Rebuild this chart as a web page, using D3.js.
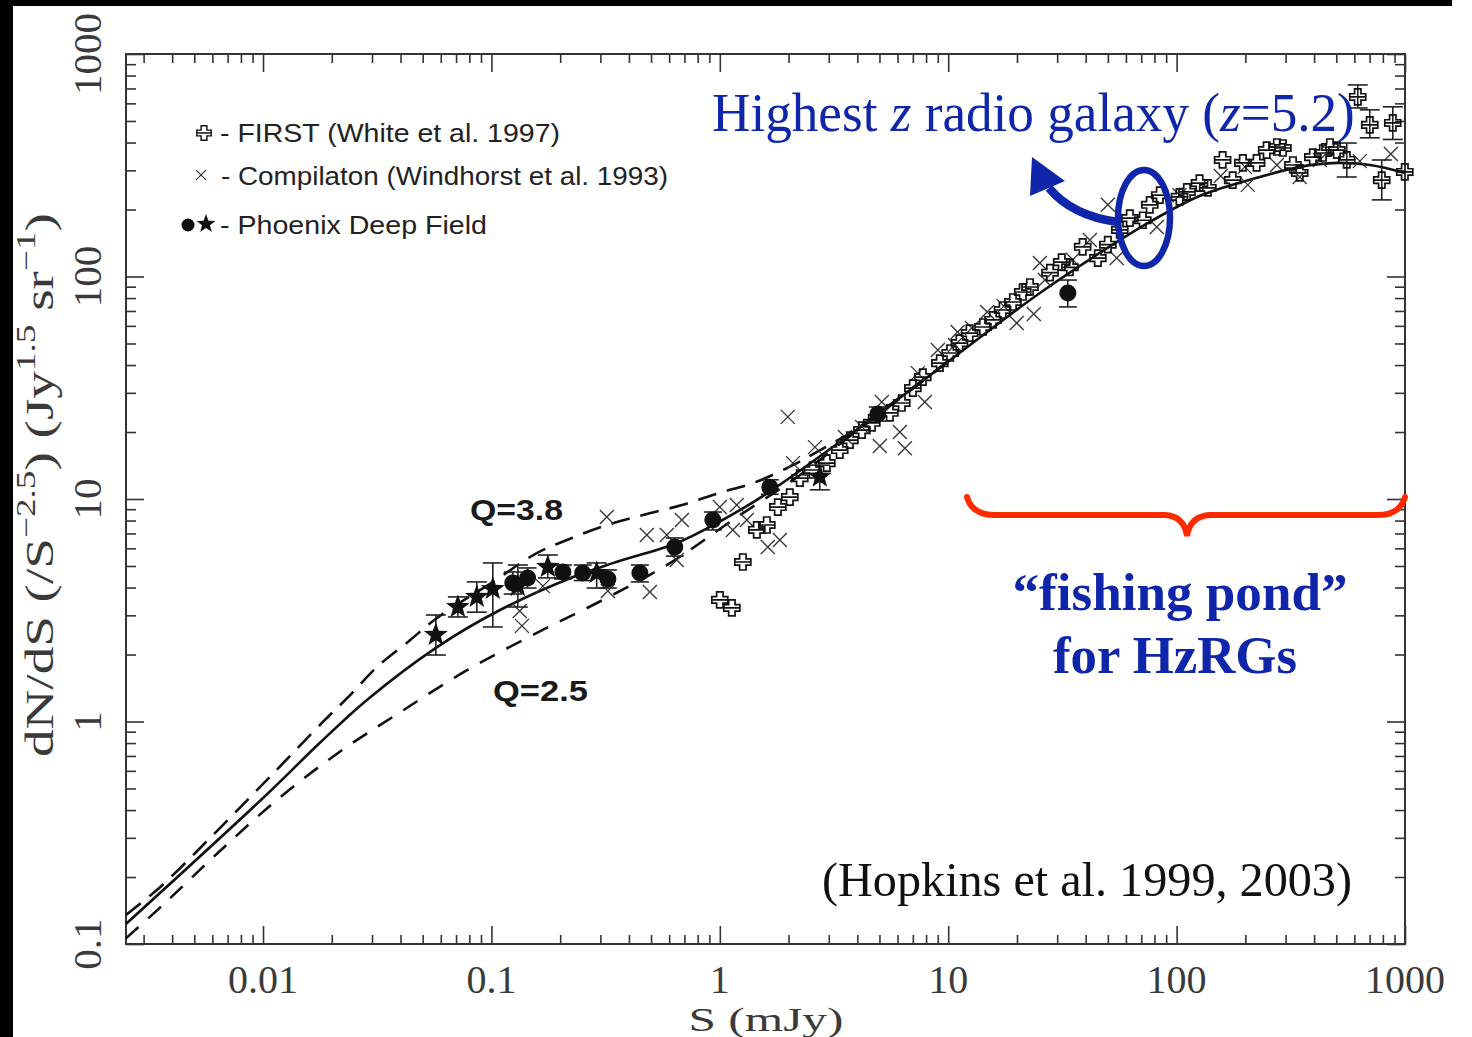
<!DOCTYPE html>
<html><head><meta charset="utf-8">
<script src="https://cdn.jsdelivr.net/npm/d3@7"></script>
<style>html,body{margin:0;padding:0;background:#fff;overflow:hidden}</style>
</head><body>
<svg id="c" width="1472" height="1037"></svg>
<script>
// ---------- DATA ----------
const xTicks = [0.01, 0.1, 1, 10, 100, 1000];
const xTickLabels = ["0.01", "0.1", "1", "10", "100", "1000"];
const yTicks = [0.1, 1, 10, 100, 1000];
const yTickLabels = ["0.1", "1", "10", "100", "1000"];

// model curves [S (mJy), dN/dS]
const modelSolid = [[0.00251,0.123],[0.01,0.453],[0.0177,0.80],[0.0285,1.25],[0.0578,2.16],[0.109,3.17],[0.228,4.46],[0.340,5.15],[0.649,6.34],[0.973,7.80],[1.61,10.6],[3.72,19.5],[5.03,24.4],[11.2,45.3],[25.2,84.3],[54.8,143],[76.4,176],[126,230],[209,272],[347,311],[504,324],[703,317],[1000,292]];
const modelQ38 = [[0.00251,0.135],[0.00354,0.180],[0.00617,0.316],[0.0107,0.563],[0.0181,0.985],[0.0240,1.31],[0.0316,1.76],[0.0440,2.32],[0.0578,2.92],[0.1016,4.24],[0.158,5.71],[0.225,6.68],[0.321,7.64],[0.461,8.47],[0.683,9.40],[0.981,10.6],[1.43,11.9],[2.09,14.2],[2.75,16.6],[3.72,19.8],[5.03,24.6],[11.2,45.5]];
const modelQ25 = [[0.00251,0.106],[0.00365,0.150],[0.00635,0.257],[0.0115,0.444],[0.0213,0.722],[0.0398,1.10],[0.0782,1.70],[0.158,2.50],[0.308,3.52],[0.605,5.15],[1.14,8.05],[2.24,12.8],[3.72,19.2],[5.03,24.2],[11.2,45.3]];

// FIRST (White et al. 1997)
const firstPts = [[1.0,3.52],[1.129,3.24],[1.261,5.21],[1.452,7.26],[1.606,7.64],[1.795,9.20],[2.025,10.2],[2.24,12.4],[2.55,13.5],[2.94,14.5],[3.35,16.6],[3.71,18.4],[4.19,20.4],[4.63,22.0],[5.55,24.4],[6.26,27.0],[7.00,31.5],[7.74,35.3],[9.19,40.8],[10.2,45.3],[11.2,50.2],[12.4,55.7],[14.2,59.3],[15.7,63.8],[17.3,70.7],[19.2,76.8],[21.2,85.2],[22.8,89.7],[27.9,104],[31.4,116],[34.1,110],[38.8,136],[45.2,121],[50.0,139],[56.4,162],[62.4,183],[71.1,179],[76.3,210],[84.4,232],[103,228],[111,240],[126,263],[137,250],[159,334],[176,271],[195,324],[224,324],[248,370],[275,382],[292,378],[323,317],[346,292],[395,344],[437,359],[469,382],[503,370],[556,334],[621,641],[701,480],[884,490],[791,271],[998,295]];
const firstErr = [[556,280,398],[621,572,726],[701,420,561],[884,413,579],[791,221,334]]; // [S, low, high]

// Compilation (Windhorst et al. 1993)
const compPts = [[0.133,3.14],[0.136,2.69],[0.168,4.06],[0.320,8.30],[0.3235,3.86],[0.479,6.89],[0.494,3.82],[0.586,6.89],[0.682,8.05],[0.648,5.32],[1.0,9.20],[1.187,9.40],[1.313,8.05],[1.14,7.26],[1.622,6.08],[1.832,6.54],[2.09,14.5],[2.61,17.1],[1.985,23.4],[5.02,17.3],[6.46,16.9],[6.14,20.0],[7.90,27.3],[7.36,36.8],[5.12,27.3],[9.01,46.7],[11.0,56.3],[12.7,58.7],[14.8,69.2],[17.5,73.6],[19.95,61.8],[23.7,67.8],[25.2,115],[35.1,119],[50.0,210],[54.7,121],[81.9,167],[156,283],[199,311],[205,258],[275,317],[346,280],[634,330],[867,355],[3.53,19.0],[4.19,21.1],[10.7,49.2],[26.5,96.5],[41.7,146],[103,232],[424,334]];

// Phoenix Deep Field [S, N, low, high]
const pdfCircles = [[0.124,4.19,3.74,4.70],[0.144,4.42,3.98,4.90],[0.2055,4.70,4.37,5.05],[0.251,4.65,4.30,5.05],[0.3235,4.37,3.98,4.80],[0.4467,4.65,4.24,5.05],[0.635,6.08,5.54,6.68],[0.932,8.05,7.26,8.74],[1.655,11.3,10.5,12.2],[4.92,24.1,22.4,25.9],[33.4,84.3,73.0,96.4]];
const pdfStars = [[0.0571,2.45,1.99,3.01],[0.0713,3.27,2.95,3.63],[0.0863,3.63,3.10,4.24],[0.1014,3.94,2.66,5.16],[0.1305,4.06,3.27,5.05],[0.1766,4.95,4.42,5.60],[0.289,4.65,3.98,5.16],[2.74,12.6,11.0,14.2]];

const legendLabels = ["- FIRST (White et al. 1997)", "- Compilaton (Windhorst et al. 1993)", "- Phoenix Deep Field"];

// ---------- DRAW ----------
const BLUE = "#1026aa", RED = "#ff2a00", AX = "#333";
const svg = d3.select("#c");
svg.append("rect").attr("width",1472).attr("height",1037).attr("fill","#fff");
svg.append("rect").attr("x",0).attr("y",0).attr("width",1452).attr("height",6).attr("fill","#000");
svg.append("rect").attr("x",0).attr("y",0).attr("width",13).attr("height",1037).attr("fill","#000");

const x = d3.scaleLog().domain([0.0025119, 1000]).range([126, 1405]);
const y = d3.scaleLog().domain([0.1, 1000]).range([944, 54]);

function minors(lo, hi){
  const out=[];
  for(let e=-3;e<=3;e++) for(let k=2;k<=9;k++){ const v=k*Math.pow(10,e); if(v>lo*1.0001 && v<hi*0.9999) out.push(v); }
  return out;
}
const xMinor = minors(x.domain()[0], x.domain()[1]);
const yMinor = minors(y.domain()[0], y.domain()[1]);

function drawAxis(gen, tx, ty, vals, size){
  const g = svg.append("g").attr("transform",`translate(${tx},${ty})`)
    .call(gen.tickValues(vals).tickSize(size).tickFormat(""));
  g.select(".domain").remove();
  g.selectAll("line").attr("stroke",AX).attr("stroke-width",1.6);
}
drawAxis(d3.axisBottom(x), 0, 944, xTicks, -18);
drawAxis(d3.axisBottom(x), 0, 944, xMinor, -9);
drawAxis(d3.axisTop(x), 0, 54, xTicks, -18);
drawAxis(d3.axisTop(x), 0, 54, xMinor, -9);
drawAxis(d3.axisLeft(y), 126, 0, yTicks, -18);
drawAxis(d3.axisLeft(y), 126, 0, yMinor, -10);
drawAxis(d3.axisRight(y), 1405, 0, yTicks, -18);
drawAxis(d3.axisRight(y), 1405, 0, yMinor, -10);

svg.append("rect").attr("x",126).attr("y",54).attr("width",1279).attr("height",890)
  .attr("fill","none").attr("stroke",AX).attr("stroke-width",2);

// tick labels
const tickFont = "'Liberation Serif', serif";
svg.append("g").selectAll("text").data(xTicks).join("text")
  .attr("x", d=>x(d)).attr("y", 993).attr("text-anchor","middle")
  .attr("font-family", tickFont).attr("font-size", 40).attr("fill","#3a3a3a")
  .text((d,i)=>xTickLabels[i]);
svg.append("g").selectAll("text").data(yTicks).join("text")
  .attr("transform", d=>`translate(101,${y(d)}) rotate(-90)`).attr("text-anchor","middle")
  .attr("font-family", tickFont).attr("font-size", 41).attr("fill","#3a3a3a")
  .text((d,i)=>yTickLabels[i]);

// axis titles
svg.append("text").attr("x",766).attr("y",1031).attr("text-anchor","middle")
  .attr("font-family", tickFont).attr("font-size",34).attr("fill","#3a3a3a")
  .attr("textLength",155).attr("lengthAdjust","spacingAndGlyphs").text("S (mJy)");

const yl = svg.append("g").attr("transform","translate(53,485) rotate(-90)");
const ylt = yl.append("text").attr("font-family", tickFont).attr("font-size",40).attr("fill","#3a3a3a");
const parts = [["dN/dS (/S",0],["\u22122.5",1],[") (Jy",0],["1.5",1],[" sr",0],["\u22121",1],[")",0]];
let prevSup = 0;
parts.forEach(([t,s])=>{
  const ts = ylt.append("tspan").text(t);
  if(s){ ts.attr("font-size",27).attr("dy", prevSup? 0 : -18); }
  else { ts.attr("dy", prevSup? 18 : 0); }
  prevSup = s;
});
(function(){
  const bb = ylt.node().getBBox();
  const sx = 544 / bb.width;
  ylt.attr("transform", `scale(${sx},1) translate(${-bb.x - bb.width/2},0)`);
})();

// model curves
const line = d3.line().x(d=>x(d[0])).y(d=>y(d[1])).curve(d3.curveCatmullRom.alpha(0.5));
svg.append("path").attr("d", line(modelQ38)).attr("fill","none").attr("stroke","#111").attr("stroke-width",2.6).attr("stroke-dasharray","19,11");
svg.append("path").attr("d", line(modelQ25)).attr("fill","none").attr("stroke","#111").attr("stroke-width",2.6).attr("stroke-dasharray","17,13");
svg.append("path").attr("d", line(modelSolid)).attr("fill","none").attr("stroke","#111").attr("stroke-width",2.6);

// marker shapes
const plusPath = "M-3.2,-8H3.2V-3.2H8V3.2H3.2V8H-3.2V3.2H-8V-3.2H-3.2Z M-8,0H8";
const crossPath = "M-7,-7L7,7M-7,7L7,-7";
function starPath(R, r){
  let p="";
  for(let i=0;i<10;i++){ const a=-Math.PI/2+i*Math.PI/5, rad=i%2?r:R; p+=(i?"L":"M")+(rad*Math.cos(a)).toFixed(2)+","+(rad*Math.sin(a)).toFixed(2); }
  return p+"Z";
}

function errBars(data, sI, loI, hiI, cap, col){
  const g = svg.append("g").attr("stroke",col).attr("stroke-width",1.6).attr("fill","none");
  data.forEach(d=>{
    const cx = x(d[sI]), y1 = y(d[loI]), y2 = y(d[hiI]);
    g.append("line").attr("x1",cx).attr("x2",cx).attr("y1",y1).attr("y2",y2);
    g.append("line").attr("x1",cx-cap).attr("x2",cx+cap).attr("y1",y1).attr("y2",y1);
    g.append("line").attr("x1",cx-cap).attr("x2",cx+cap).attr("y1",y2).attr("y2",y2);
  });
}

// compilation crosses
svg.append("g").selectAll("path").data(compPts).join("path")
  .attr("transform", d=>`translate(${x(d[0])},${y(d[1])})`).attr("d", crossPath)
  .attr("stroke","#333").attr("stroke-width",1.3).attr("fill","none");

// FIRST
errBars(firstErr, 0, 1, 2, 10, "#222");
svg.append("g").selectAll("path").data(firstPts).join("path")
  .attr("transform", d=>`translate(${x(d[0])},${y(d[1])})`).attr("d", plusPath)
  .attr("stroke","#111").attr("stroke-width",1.7).attr("fill","none");

// Phoenix
errBars(pdfStars, 0, 2, 3, 10, "#222");
errBars(pdfCircles, 0, 2, 3, 9, "#222");
svg.append("g").selectAll("circle").data(pdfCircles).join("circle")
  .attr("cx", d=>x(d[0])).attr("cy", d=>y(d[1])).attr("r", 8.5).attr("fill","#111");
svg.append("g").selectAll("path").data(pdfStars).join("path")
  .attr("transform", d=>`translate(${x(d[0])},${y(d[1])})`).attr("d", starPath(12.5,5.2)).attr("fill","#111");

// legend
svg.append("path").attr("transform","translate(204,133) scale(0.9)").attr("d", plusPath).attr("stroke","#111").attr("stroke-width",1.6).attr("fill","none");
svg.append("path").attr("transform","translate(201,175) scale(0.7)").attr("d", crossPath).attr("stroke","#333").attr("stroke-width",1.6).attr("fill","none");
svg.append("circle").attr("cx",188).attr("cy",225).attr("r",6.5).attr("fill","#111");
svg.append("path").attr("transform","translate(206,224)").attr("d", starPath(10,4.1)).attr("fill","#111");
const legX = [220, 221, 220], legY = [142, 185, 234], legW = [340, 447, 267];
legendLabels.forEach((t,i)=>{
  svg.append("text").attr("x",legX[i]).attr("y",legY[i]).attr("font-family","'Liberation Sans', Arial, sans-serif")
    .attr("font-size",25).attr("fill","#222").attr("textLength",legW[i]).attr("lengthAdjust","spacingAndGlyphs").text(t);
});

// Q labels
svg.append("text").attr("x",470).attr("y",520).attr("font-family","'Liberation Sans', Arial, sans-serif").attr("font-weight","bold")
  .attr("font-size",30).attr("fill","#1a1a1a").attr("textLength",93).attr("lengthAdjust","spacingAndGlyphs").text("Q=3.8");
svg.append("text").attr("x",493).attr("y",701).attr("font-family","'Liberation Sans', Arial, sans-serif").attr("font-weight","bold")
  .attr("font-size",30).attr("fill","#1a1a1a").attr("textLength",95).attr("lengthAdjust","spacingAndGlyphs").text("Q=2.5");

// Title annotation
const tg = svg.append("g");
const tt = tg.append("text").attr("font-family","'Liberation Serif', 'Times New Roman', serif").attr("font-size",54).attr("fill",BLUE);
tt.append("tspan").text("Highest ");
tt.append("tspan").attr("font-style","italic").text("z");
tt.append("tspan").text(" radio galaxy (");
tt.append("tspan").attr("font-style","italic").text("z");
tt.append("tspan").text("=5.2)");
(function(){
  const bb = tt.node().getBBox();
  tg.attr("transform", `translate(712,131) scale(${643/bb.width},1) translate(${-bb.x},0)`);
})();

// ellipse & arrow
svg.append("ellipse").attr("cx",1144).attr("cy",218).attr("rx",26).attr("ry",48)
  .attr("fill","none").attr("stroke",BLUE).attr("stroke-width",6.5);
svg.append("path").attr("d","M1118,222 Q1072,216 1049,188").attr("fill","none").attr("stroke",BLUE).attr("stroke-width",8.5);
svg.append("path").attr("d","M1032,157 L1030,196 L1065,181 Z").attr("fill",BLUE);

// brace
svg.append("path").attr("d","M967,497 Q972,515 995,515 L1165,515 Q1184,516 1187,536 Q1190,516 1210,515 L1378,515 Q1400,515 1405,497")
  .attr("fill","none").attr("stroke",RED).attr("stroke-width",6).attr("stroke-linecap","round");

// fishing pond text
svg.append("text").attr("x",1180).attr("y",610).attr("text-anchor","middle").attr("font-family","'Liberation Serif', serif")
  .attr("font-weight","bold").attr("font-size",53).attr("fill",BLUE).attr("textLength",335).attr("lengthAdjust","spacingAndGlyphs")
  .text("\u201Cfishing pond\u201D");
svg.append("text").attr("x",1175).attr("y",673).attr("text-anchor","middle").attr("font-family","'Liberation Serif', serif")
  .attr("font-weight","bold").attr("font-size",53).attr("fill",BLUE).attr("textLength",244).attr("lengthAdjust","spacingAndGlyphs")
  .text("for HzRGs");

// citation
svg.append("text").attr("x",822).attr("y",896).attr("font-family","'Liberation Serif', serif")
  .attr("font-size",48).attr("fill","#111").attr("textLength",530).attr("lengthAdjust","spacingAndGlyphs")
  .text("(Hopkins et al. 1999, 2003)");
</script>
</body></html>
